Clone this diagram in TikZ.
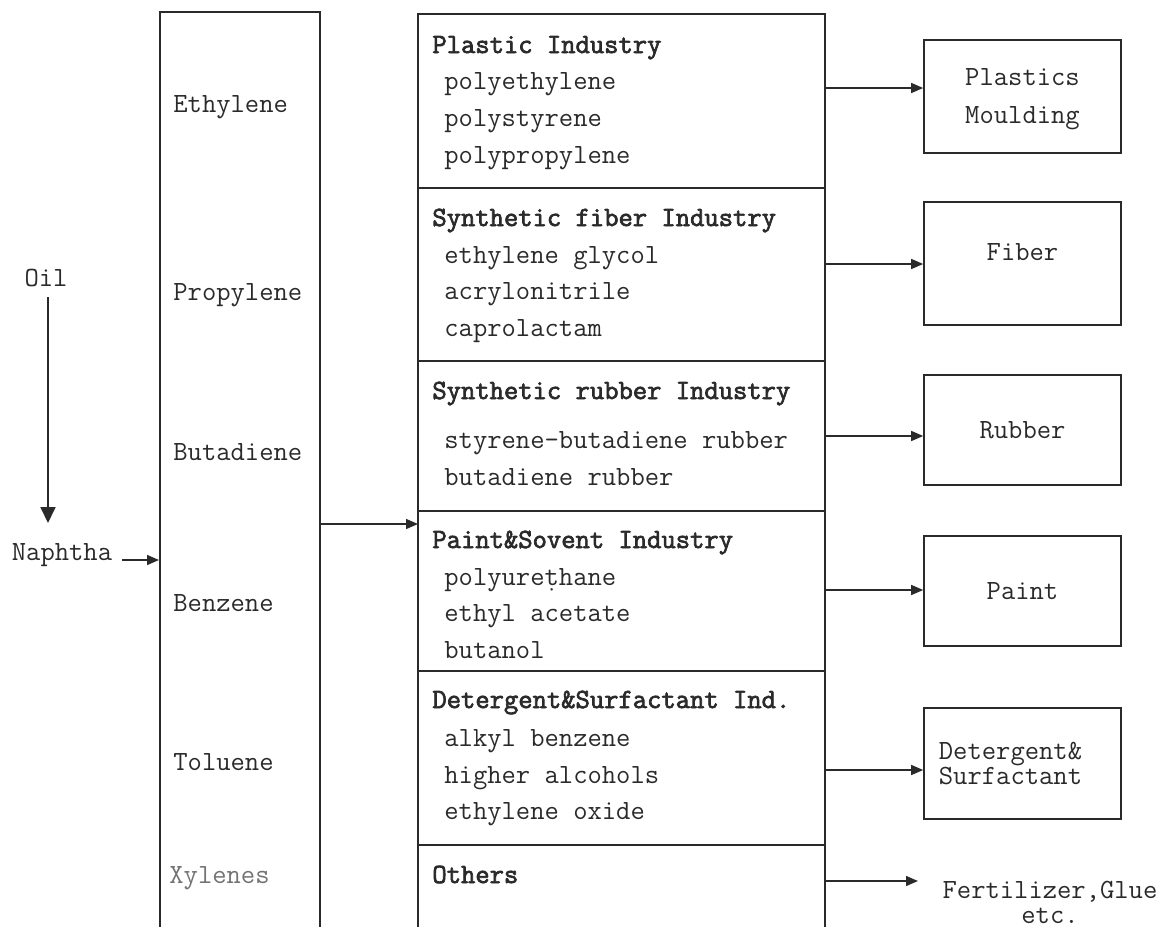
\documentclass[tikz,border=0pt]{standalone}
\usepackage{fontspec}
\setmonofont{Latin Modern Mono}[FakeBold=0]
\newfontfamily\ttbold{Latin Modern Mono}[FakeBold=2.5]
\usetikzlibrary{arrows.meta}
\definecolor{ink}{HTML}{2A2A2A}
\tikzset{
  txt/.style={font=\ttfamily\fontsize{13.9}{18.5}\selectfont, text=ink, inner sep=0pt, anchor=base west},
  ttl/.style={txt, font=\ttbold\fontsize{13.9}{18.5}\selectfont},
  rbox/.style={draw=ink, line width=0.8pt, font=\ttfamily\fontsize{13.9}{19}\selectfont, text=ink, align=center, inner sep=0pt},
  col/.style={draw=ink, line width=0.8pt},
  arr/.style={draw=ink, line width=0.7pt, -{Triangle[length=6pt,width=5pt]}},
  bigarr/.style={draw=ink, line width=0.9pt, -{Triangle[length=8pt,width=7.5pt]}}
}
\begin{document}
\begin{tikzpicture}[x=0.5pt,y=-0.5pt]
\useasboundingbox (0,0) rectangle (1164,927);
% columns
\coordinate (lcolTL) at (160,12);
\coordinate (lcolTR) at (320,12);
\coordinate (mcolTL) at (418,14);
\coordinate (mcolTR) at (825,14);
\path[col] (160,927) -- (lcolTL) -- (lcolTR) -- (320,927);
\path[col] (418,927) -- (mcolTL) -- (mcolTR) -- (825,927);
\foreach \yy in {188,361,511,671,845} \path[col] (418,\yy) -- (825,\yy);
% left column labels
\node[txt] (eth) at (173,112) {Ethylene};
\node[txt] (pro) at (173,300) {Propylene};
\node[txt] (but) at (173,460) {Butadiene};
\node[txt] (ben) at (173,611) {Benzene};
\node[txt] (tol) at (173,770) {Toluene};
\node[txt, text=black!55] (xyl) at (169,883) {Xylenes};
% Oil / Naphtha
\node[txt, anchor=center] (oil) at (46,278) {Oil};
\coordinate (oilend) at (48,523);
\draw[bigarr] (48,297) -- (oilend);
\node[txt, anchor=center] (nap) at (62,555) {Naphtha};
\coordinate (lcolin) at (159,560);
\draw[arr] (122,560) -- (lcolin);
% left -> middle
\coordinate (lcolout) at (320,524);
\coordinate (mcolin) at (418,524);
\draw[arr] (lcolout) -- (mcolin);
% middle texts
\node[ttl] (t1) at (432,53) {Plastic Industry};
\node[txt] (i11) at (444,89) {polyethylene};
\node[txt] (i12) at (444,126) {polystyrene};
\node[txt] (i13) at (444,163) {polypropylene};
\node[ttl] (t2) at (432,226) {Synthetic fiber Industry};
\node[txt] (i21) at (444,263) {ethylene glycol};
\node[txt] (i22) at (444,299) {acrylonitrile};
\node[txt] (i23) at (444,336) {caprolactam};
\node[ttl] (t3) at (432,399) {Synthetic rubber Industry};
\node[txt] (i31) at (444,448) {styrene-butadiene rubber};
\node[txt] (i32) at (444,485) {butadiene rubber};
\node[ttl] (t4) at (432,548) {Paint\&Sovent Industry};
\node[txt] (i41) at (444,585) {polyure\d{t}hane};
\node[txt] (i42) at (444,621) {ethyl acetate};
\node[txt] (i43) at (444,658) {butanol};
\node[ttl] (t5) at (432,708) {Detergent\&Surfactant Ind.};
\node[txt] (i51) at (444,746) {alkyl benzene};
\node[txt] (i52) at (444,783) {higher alcohols};
\node[txt] (i53) at (444,819) {ethylene oxide};
\node[ttl] (t6) at (432,883) {Others};
% right boxes
\node[rbox, minimum width=98.5pt, minimum height=56.5pt] (b1) at (1022.5,96.5) {\raisebox{-3.5pt}{\begin{tabular}{@{}c@{}}Plastics\\[0pt]Moulding\end{tabular}}};
\node[rbox, minimum width=98.5pt, minimum height=61.5pt] (b2) at (1022.5,263.5) {\raisebox{11pt}{Fiber}};
\node[rbox, minimum width=98.5pt, minimum height=55pt] (b3) at (1022.5,430) {Rubber};
\node[rbox, minimum width=98.5pt, minimum height=55pt] (b4) at (1022.5,591) {Paint};
\node[rbox, minimum width=98.5pt, minimum height=55.5pt, align=left, font=\ttfamily\fontsize{13.9}{12.5}\selectfont] (b5) at (1022.5,763.5) {\hspace*{-12pt}Detergent\&\\\hspace*{-12pt}Surfactant};
\node[txt, anchor=center, align=center, font=\ttfamily\fontsize{13.9}{12.5}\selectfont] (fert) at (1050,902) {Fertilizer,Glue\\etc.};
\coordinate (fertin) at (918,881);
% middle -> right arrows
\coordinate (m1) at (825,88);
\coordinate (m2) at (825,264);
\coordinate (m3) at (825,436);
\coordinate (m4) at (825,590);
\coordinate (m5) at (825,770);
\coordinate (m6) at (825,881);
\draw[arr] (m1) -- (m1 -| b1.west);
\draw[arr] (m2) -- (m2 -| b2.west);
\draw[arr] (m3) -- (m3 -| b3.west);
\draw[arr] (m4) -- (m4 -| b4.west);
\draw[arr] (m5) -- (m5 -| b5.west);
\draw[arr] (m6) -- (fertin);
\end{tikzpicture}
\end{document}
